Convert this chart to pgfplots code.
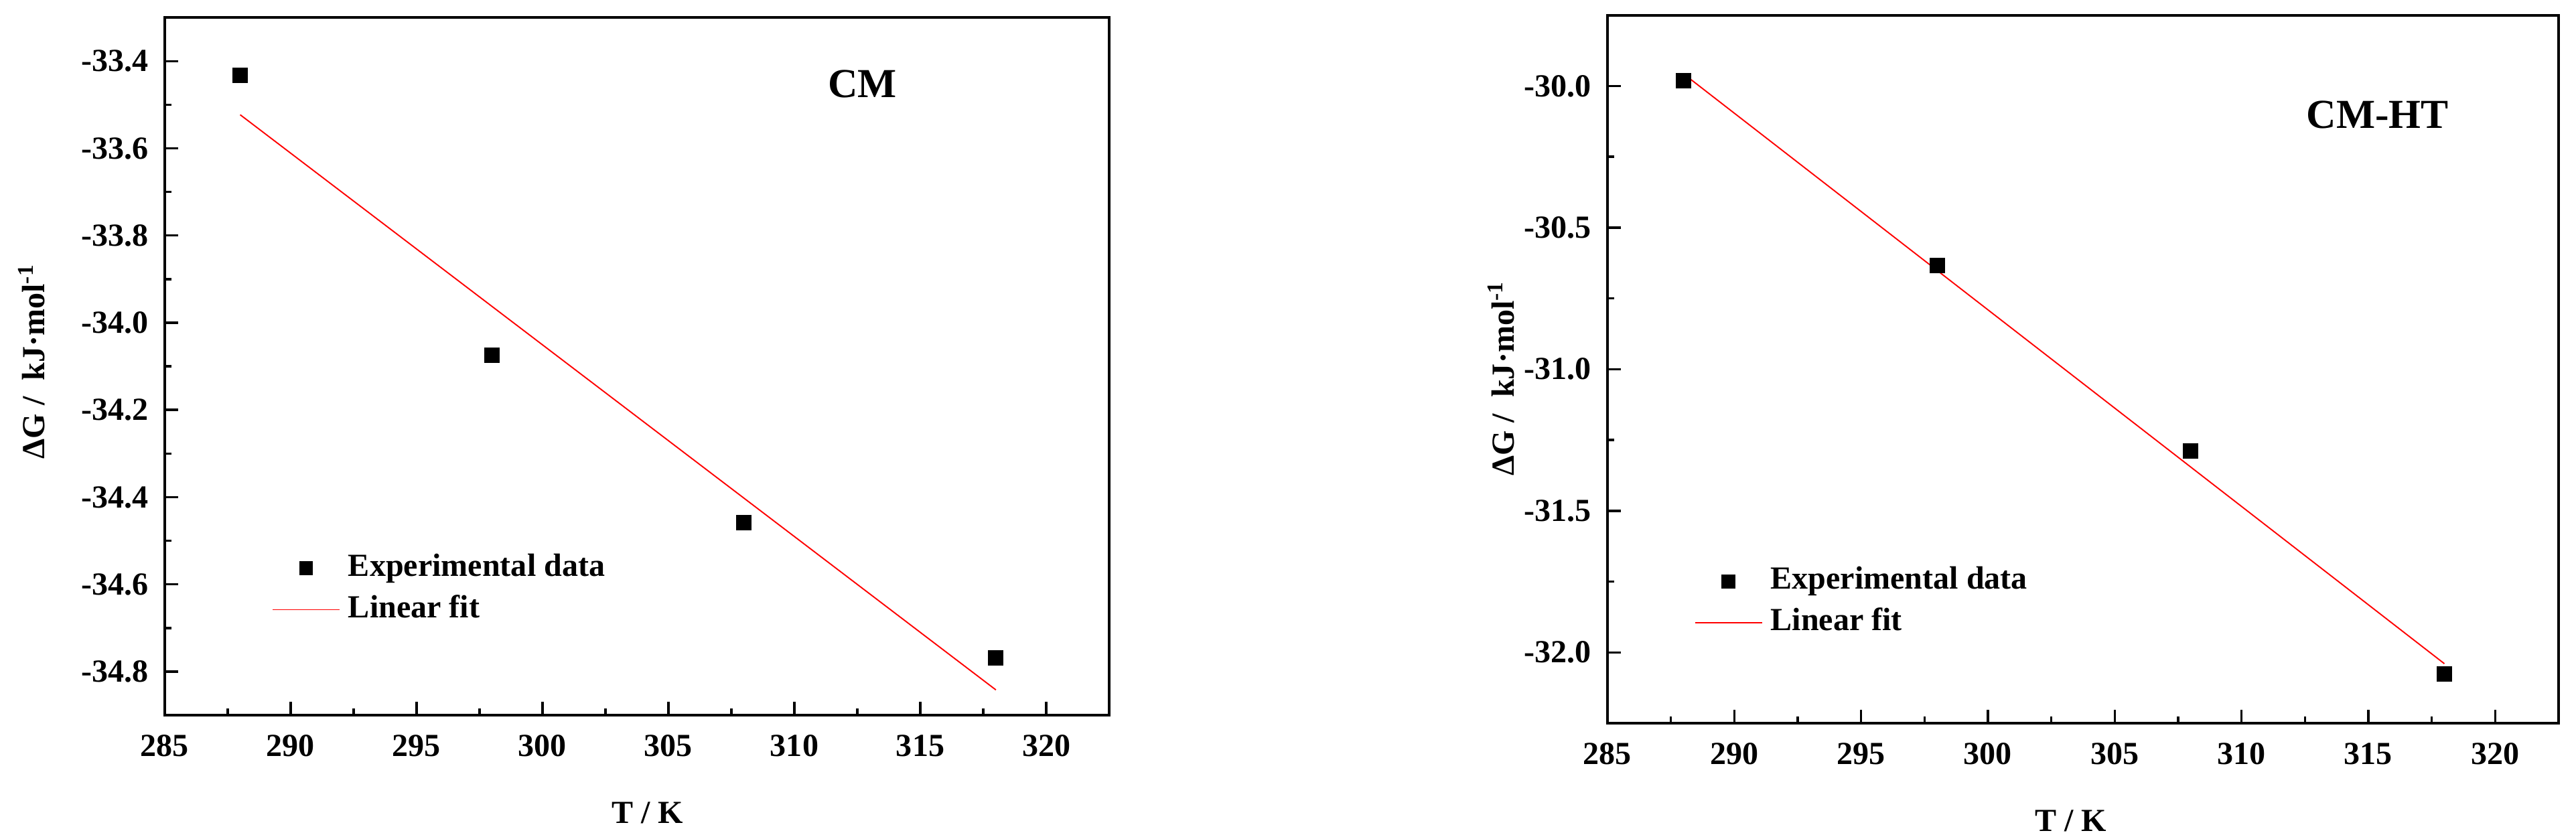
\documentclass[border=0pt]{standalone}
\usepackage{fontspec}
\setmainfont{Liberation Serif}
\usepackage{pgfplots}
\pgfplotsset{compat=1.18}
\definecolor{fitred}{RGB}{255,0,0}

\newcommand{\tickfont}{\fontsize{12.5}{15}\selectfont\bfseries}

\pgfplotsset{
  dgaxis/.style={
    scale only axis,
    xmin=285, xmax=322.5,
    xtick={285,290,295,300,305,310,315,320},
    xticklabels={285,290,295,300,305,310,315,320},
    minor x tick num=1, minor y tick num=1,
    tick align=inside, tick pos=left,
    major tick length=5.2pt, minor tick length=2.6pt,
    every tick/.style={black, line width=0.9pt},
    axis line style={line width=1.05pt},
    tick label style={font=\tickfont},
    xticklabel style={anchor=north, inner sep=0pt, yshift=-7.5pt},
    yticklabel style={anchor=east, inner sep=0pt, xshift=-6.2pt},
    xlabel={T / K},
    ylabel={ΔG /~~kJ·mol\textsuperscript{-1}},
    label style={font=\fontsize{12.5}{15}\selectfont\bfseries},
    legend cell align=left,
    legend style={draw=none, fill=none, inner sep=0pt, outer sep=0pt,
      font=\tickfont, row sep=4.1pt,
      nodes={inner sep=0pt, text height=9pt, text depth=3pt},
      /tikz/every odd column/.style={column sep=3.1pt}},
    legend image code/.code={\draw[mark repeat=2,mark phase=2,#1]
      plot coordinates {(0pt,0pt) (13pt,0pt) (26pt,0pt)};},
  }
}

\begin{document}
\begin{tikzpicture}

% CM
\begin{axis}[dgaxis,
  at={(63.9pt,-277.7pt)}, anchor=south west,
  width=366.7pt, height=270.9pt,
  ymin=-34.9, ymax=-33.3,
  ytick={-34.8,-34.6,-34.4,-34.2,-34.0,-33.8,-33.6,-33.4},
  yticklabels={-34.8,-34.6,-34.4,-34.2,-34.0,-33.8,-33.6,-33.4},
  xlabel style={at={([yshift=-41.9pt]axis description cs:0.511,0)}, anchor=base},
  ylabel style={at={([xshift=-51.7pt]axis description cs:0,0.507)}, anchor=center, rotate=0},
  legend style={at={(0.1137,0.2328)}, anchor=north west},
]
\addplot[only marks, mark=square*, mark size=2.8pt, black,
  legend image post style={mark size=2.5pt}]
  coordinates {(288,-33.432)(298,-34.075)(308,-34.458)(318,-34.768)};
\addplot[fitred, line width=0.5pt, mark=none]
  coordinates {(288,-33.523)(318,-34.842)};
\legend{Experimental data, Linear fit}
\node[anchor=base, font=\fontsize{16}{19}\selectfont\bfseries] at (axis cs:312.7,-33.484) {CM};
\end{axis}

% CM-HT
\begin{axis}[dgaxis,
  at={(624.0pt,-280.8pt)}, anchor=south west,
  width=369.2pt, height=274.9pt,
  ymin=-32.25, ymax=-29.75,
  ytick={-32.0,-31.5,-31.0,-30.5,-30.0},
  yticklabels={-32.0,-31.5,-31.0,-30.5,-30.0},
  xlabel style={at={([yshift=-41.9pt]axis description cs:0.487,0)}, anchor=base},
  ylabel style={at={([xshift=-41.3pt]axis description cs:0,0.487)}, anchor=center, rotate=0},
  legend style={at={(0.0915,0.2219)}, anchor=north west},
]
\addplot[only marks, mark=square*, mark size=2.8pt, black,
  legend image post style={mark size=2.5pt}]
  coordinates {(288,-29.981)(298,-30.633)(308,-31.289)(318,-32.077)};
\addplot[fitred, line width=0.5pt, mark=none]
  coordinates {(288,-29.957)(318,-32.040)};
\legend{Experimental data, Linear fit}
\node[anchor=base, font=\fontsize{16}{19}\selectfont\bfseries] at (axis cs:315.37,-30.15) {CM-HT};
\end{axis}

\pgfresetboundingbox
\useasboundingbox (0,0) rectangle (1000pt,-323.44pt);
\end{tikzpicture}
\end{document}
